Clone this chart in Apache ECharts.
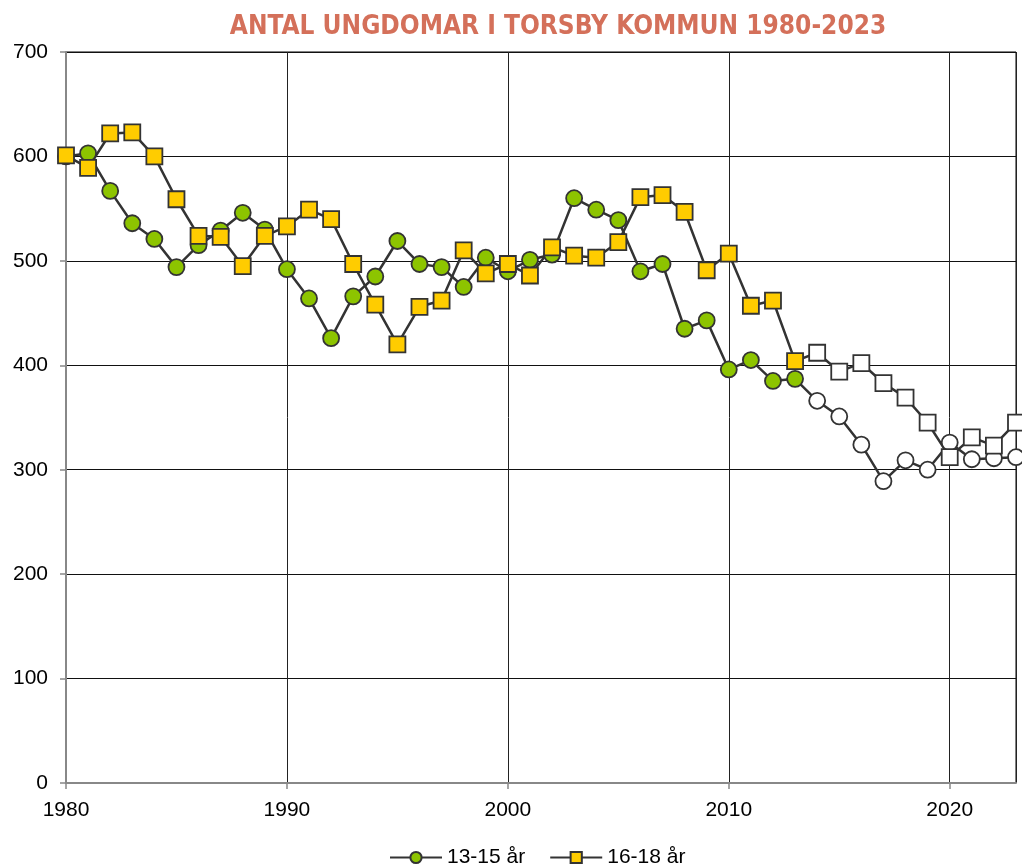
<!DOCTYPE html>
<html lang="sv">
<head>
    <meta charset="UTF-8">
    <title>Antal ungdomar i Torsby kommun 1980-2023</title>
    <script src="https://cdn.jsdelivr.net/npm/echarts/dist/echarts.min.js"></script>
    <style>
        body { margin: 0; background: #fff; }
        #chart { width: 1022px; height: 866px; }
    </style>
</head>
<body>
    <div id="chart"></div>
    <script>
        var ar = [1980, 1981, 1982, 1983, 1984, 1985, 1986, 1987, 1988, 1989,
                  1990, 1991, 1992, 1993, 1994, 1995, 1996, 1997, 1998, 1999,
                  2000, 2001, 2002, 2003, 2004, 2005, 2006, 2007, 2008, 2009,
                  2010, 2011, 2012, 2013, 2014, 2015, 2016, 2017, 2018, 2019,
                  2020, 2021, 2022, 2023];
        var unga1315 = [600, 603, 567, 536, 521, 494, 515, 529, 546, 530,
                        492, 464, 426, 466, 485, 519, 497, 494, 475, 503,
                        490, 501, 506, 560, 549, 539, 490, 497, 435, 443,
                        396, 405, 385, 387, 366, 351, 324, 289, 309, 300,
                        326, 310, 311, 312];
        var unga1618 = [601, 589, 622, 623, 600, 559, 524, 523, 495, 524,
                        533, 549, 540, 497, 458, 420, 456, 462, 510, 488,
                        497, 486, 513, 505, 503, 518, 561, 563, 547, 491,
                        507, 457, 462, 404, 412, 394, 402, 383, 369, 345,
                        312, 331, 323, 345];
        // från och med detta år ritas markörerna ofyllda (prognos)
        var prognosFran = 2014;

        var chart = echarts.init(document.getElementById('chart'));

        function punkter(values) {
            return ar.map(function (year, i) {
                var p = { value: [year, values[i]] };
                if (year >= prognosFran) {
                    p.itemStyle = { color: '#ffffff' };
                }
                return p;
            });
        }

        var textFont = '"Liberation Sans", Arial, sans-serif';

        var option = {
            backgroundColor: '#ffffff',
            animation: false,
            title: {
                text: 'ANTAL UNGDOMAR I TORSBY KOMMUN 1980-2023',
                left: 553,
                top: 9,
                textAlign: 'center',
                textStyle: {
                    color: '#d4705a',
                    fontSize: 26,
                    fontWeight: 'bold',
                    fontFamily: '"Liberation Sans Narrow", "DejaVu Sans Condensed", sans-serif'
                }
            },
            grid: {
                left: 66,
                right: 6,
                top: 52,
                bottom: 83,
                show: true,
                borderColor: '#000',
                borderWidth: 1
            },
            legend: {
                top: 842,
                left: 384,
                itemWidth: 52,
                itemHeight: 14,
                itemGap: 24,
                textStyle: { color: '#000', fontSize: 21, fontFamily: textFont },
                data: ['13-15 år', '16-18 år']
            },
            xAxis: {
                type: 'value',
                min: 1980,
                max: 2023,
                interval: 10,
                axisLine: { show: true, lineStyle: { color: '#888', width: 2 } },
                axisTick: { show: true, length: 6, lineStyle: { color: '#888', width: 1.5 } },
                axisLabel: {
                    color: '#000',
                    fontSize: 21,
                    fontFamily: textFont,
                    margin: 17,
                    showMaxLabel: false,
                    formatter: function (v) { return String(v); }
                },
                splitLine: { show: true, lineStyle: { color: '#222', width: 1 } }
            },
            yAxis: {
                type: 'value',
                min: 0,
                max: 700,
                interval: 100,
                axisLine: { show: true, lineStyle: { color: '#888', width: 2 } },
                axisTick: { show: true, length: 6, lineStyle: { color: '#888', width: 1.5 } },
                axisLabel: {
                    color: '#000',
                    fontSize: 21,
                    fontFamily: textFont,
                    margin: 18
                },
                splitLine: { show: true, lineStyle: { color: '#111', width: 1 } }
            },
            series: [
                {
                    name: '13-15 år',
                    type: 'line',
                    symbol: 'circle',
                    symbolSize: 16,
                    data: punkter(unga1315),
                    lineStyle: { color: '#333', width: 2.5 },
                    itemStyle: { color: '#8dc400', borderColor: '#333', borderWidth: 1.8 }
                },
                {
                    name: '16-18 år',
                    type: 'line',
                    symbol: 'rect',
                    symbolSize: 16,
                    data: punkter(unga1618),
                    lineStyle: { color: '#333', width: 2.5 },
                    itemStyle: { color: '#ffcc00', borderColor: '#333', borderWidth: 1.8 }
                }
            ]
        };

        chart.setOption(option);
    </script>
</body>
</html>
